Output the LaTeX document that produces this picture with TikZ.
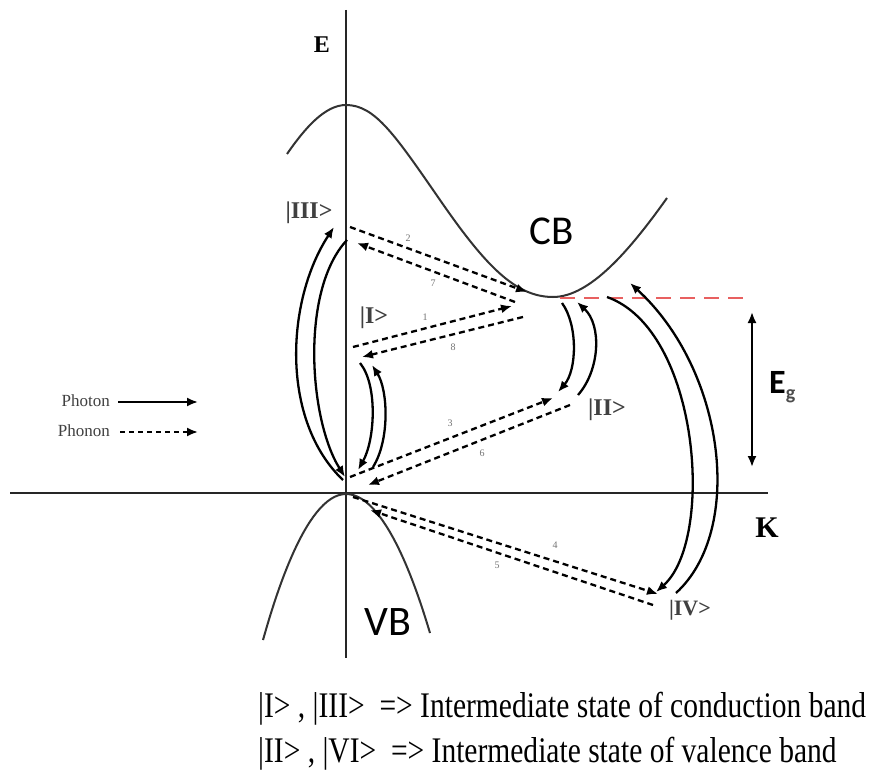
\documentclass[tikz,border=0pt]{standalone}
\usepackage{fontspec}
\setmainfont{Liberation Serif}
\newfontfamily\calfont{Carlito}
\usetikzlibrary{arrows.meta}
\begin{document}
\begin{tikzpicture}[x=1pt,y=-1pt,
  axis/.style={line width=2.8pt, black!85},
  band/.style={line width=2pt, black!80},
  photon/.style={line width=2.3pt, -{Latex[length=11pt,width=9pt]}},
  phonon/.style={line width=2.3pt, dash pattern=on 6pt off 4pt, -{Latex[length=11pt,width=9pt]}},
  state/.style={font=\bfseries\fontsize{24}{24}\selectfont, text=black!75, inner sep=0},
  num/.style={font=\fontsize{10}{10}\selectfont, text=black!55, inner sep=0},
  lbl/.style={inner sep=0}]
\useasboundingbox (0,0) rectangle (876,778);
\fill[white] (0,0) rectangle (876,778);

% axes
\coordinate (ytop) at (346,10);
\coordinate (ybot) at (346,658);
\coordinate (xl) at (10,493);
\coordinate (xr) at (768,493);
\draw[axis] (ytop) -- (ybot);
\draw[axis] (xl) -- (xr);
\node[lbl, font=\bfseries\fontsize{24}{24}\selectfont] (E) at (322,45) {E};
\node[lbl, font=\bfseries\fontsize{30}{30}\selectfont] (K) at (767,528) {K};

% bands
\coordinate (cb0) at (287,154);
\coordinate (cbmax) at (346,105);
\coordinate (cbinf) at (440,200);
\coordinate (cbmin) at (553,297);
\coordinate (cb1) at (667,198);
\draw[band] (cb0) .. controls (305,128) and (325,105) .. (cbmax)
  .. controls (375,105) and (395,135) .. (cbinf)
  .. controls (485,265) and (515,297) .. (cbmin)
  .. controls (590,297) and (630,250) .. (cb1);
\coordinate (vbl) at (263,640);
\coordinate (vbt) at (346,494);
\coordinate (vbr) at (430,633);
\draw[band] (vbl) parabola bend (vbt) (vbr);
\node[lbl, font=\calfont\fontsize{41}{41}\selectfont] (CB) at (552,231) {CB};
\node[lbl, font=\calfont\fontsize{42}{42}\selectfont] (VB) at (388,622) {VB};

% band gap
\coordinate (rd1) at (560,298);
\coordinate (rd2) at (748,298);
\draw[line width=1.6pt, color={rgb,255:red,232;green,96;blue,96}, dash pattern=on 15pt off 9pt] (rd1) -- (rd2);
\coordinate (eg1) at (752,312);
\coordinate (eg2) at (752,467);
\draw[line width=2pt, {Latex[length=11pt,width=9pt]}-{Latex[length=11pt,width=9pt]}] (eg1) -- (eg2);
\node[lbl, anchor=base west, font=\calfont\bfseries\fontsize{34}{34}\selectfont] (Eg) at (769,393) {E\raisebox{-6pt}{\fontsize{20}{20}\selectfont\color{black!70}g}};

% state labels
\node[state] (s3) at (309,213) {|III>};
\node[state] (s1) at (374,318) {|I>};
\node[state] (s2) at (607,410) {|II>};
\node[state, font=\bfseries\fontsize{22}{22}\selectfont] (s4) at (690,610) {|IV>};

% phonon arrows
\coordinate (p2a) at (350,227); \coordinate (p2b) at (527,292);
\coordinate (p7a) at (515,302); \coordinate (p7b) at (357,243);
\coordinate (p1a) at (353,347); \coordinate (p1b) at (512,306);
\coordinate (p8a) at (523,317); \coordinate (p8b) at (362,357);
\coordinate (p3a) at (350,477); \coordinate (p3b) at (553,398);
\coordinate (p6a) at (570,405); \coordinate (p6b) at (368,485);
\coordinate (p4a) at (353,497); \coordinate (p4b) at (658,594);
\coordinate (p5a) at (653,605); \coordinate (p5b) at (370,510);
\draw[phonon] (p2a) -- (p2b);
\draw[phonon] (p7a) -- (p7b);
\draw[phonon] (p1a) -- (p1b);
\draw[phonon] (p8a) -- (p8b);
\draw[phonon] (p3a) -- (p3b);
\draw[phonon] (p6a) -- (p6b);
\draw[phonon] (p4a) -- (p4b);
\draw[phonon] (p5a) -- (p5b);
\node[num] (n2) at (408,238) {2};
\node[num] (n7) at (433,283) {7};
\node[num] (n1) at (425,317) {1};
\node[num] (n8) at (453,347) {8};
\node[num] (n3) at (450,423) {3};
\node[num] (n6) at (482,453) {6};
\node[num] (n4) at (555,545) {4};
\node[num] (n5) at (497,565) {5};

% photon arrows
\coordinate (a1s) at (343,480); \coordinate (a1e) at (334,227);
\draw[photon] (a1s) .. controls (280,420) and (286,300) .. (a1e);
\coordinate (a2s) at (347,240); \coordinate (a2e) at (345,477);
\draw[photon] (a2s) .. controls (300,290) and (309,420) .. (a2e);
\coordinate (b1s) at (360,363); \coordinate (b1e) at (358,470);
\draw[photon] (b1s) .. controls (378,385) and (375,440) .. (b1e);
\coordinate (b2s) at (373,467); \coordinate (b2e) at (372,365);
\draw[photon] (b2s) .. controls (390,440) and (388,390) .. (b2e);
\coordinate (c1s) at (562,303); \coordinate (c1e) at (558,392);
\draw[photon] (c1s) .. controls (578,325) and (577,370) .. (c1e);
\coordinate (c2s) at (578,395); \coordinate (c2e) at (577,302);
\draw[photon] (c2s) .. controls (600,370) and (602,325) .. (c2e);
\coordinate (d1s) at (607,297); \coordinate (d1e) at (656,592);
\draw[photon] (d1s) .. controls (700,330) and (715,540) .. (d1e);
\coordinate (d2s) at (676,593); \coordinate (d2e) at (630,283);
\draw[photon] (d2s) .. controls (745,530) and (725,370) .. (d2e);

% legend
\node[lbl, anchor=east, font=\fontsize{17}{17}\selectfont, text=black!75] (photon) at (110,401) {Photon};
\node[lbl, anchor=east, font=\fontsize{17}{17}\selectfont, text=black!75] (phonon) at (110,431) {Phonon};
\coordinate (lg1a) at (118,402); \coordinate (lg1b) at (198,402);
\coordinate (lg2a) at (120,432); \coordinate (lg2b) at (198,432);
\draw[photon, line width=2pt] (lg1a) -- (lg1b);
\draw[phonon, line width=2pt, dash pattern=on 5pt off 4pt] (lg2a) -- (lg2b);

% bottom text
\node[lbl, anchor=base west, font=\fontsize{36}{36}\selectfont] (t1) at (258,717) {\scalebox{0.82}[1]{|I> , |III>\ \ => Intermediate state of conduction band}};
\node[lbl, anchor=base west, font=\fontsize{36}{36}\selectfont] (t2) at (258,762) {\scalebox{0.82}[1]{|II> , |VI>\ \ => Intermediate state of valence band}};
\end{tikzpicture}
\end{document}
